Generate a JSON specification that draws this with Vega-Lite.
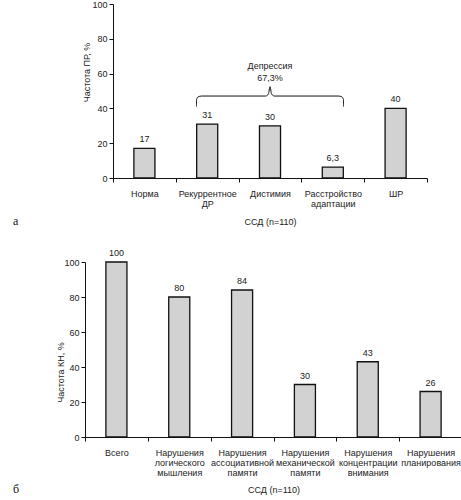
{
  "$schema": "https://vega.github.io/schema/vega-lite/v6.json",
  "padding": {"left": 13, "top": 0, "right": 0, "bottom": 0},
  "background": "white",
  "spacing": 22,
  "config": {
    "view": {"stroke": null},
    "font": "Liberation Sans",
    "axis": {
      "domainColor": "#111",
      "tickColor": "#111",
      "tickSize": 4,
      "domainWidth": 1,
      "tickWidth": 1,
      "labelFont": "Liberation Sans",
      "labelFontSize": 9,
      "labelColor": "#222",
      "labelOverlap": false,
      "titleFont": "Liberation Sans",
      "titleFontSize": 9,
      "titleFontWeight": "normal",
      "titleColor": "#222",
      "grid": false
    },
    "title": {"font": "Liberation Serif", "fontSize": 12, "fontWeight": "normal", "color": "#111"}
  },
  "datasets": {
    "top": [
      {"cat": "Норма", "value": 17, "lbl": "17"},
      {"cat": "Рекуррентное ДР", "value": 31, "lbl": "31"},
      {"cat": "Дистимия", "value": 30, "lbl": "30"},
      {"cat": "Расстройство адаптации", "value": 6.3, "lbl": "6,3"},
      {"cat": "ШР", "value": 40, "lbl": "40"}
    ],
    "brace": [
      {"i": 1, "x": 1.33, "y": 41},
      {"i": 2, "x": 1.33, "y": 45},
      {"i": 3, "x": 1.355, "y": 46.6},
      {"i": 4, "x": 1.41, "y": 47.1},
      {"i": 5, "x": 2.43, "y": 47.1},
      {"i": 6, "x": 2.475, "y": 48.3},
      {"i": 7, "x": 2.5, "y": 52.5},
      {"i": 8, "x": 2.525, "y": 48.3},
      {"i": 9, "x": 2.57, "y": 47.1},
      {"i": 10, "x": 3.59, "y": 47.1},
      {"i": 11, "x": 3.645, "y": 46.6},
      {"i": 12, "x": 3.67, "y": 45},
      {"i": 13, "x": 3.67, "y": 41}
    ],
    "braceText": [
      {"x": 2.5, "y": 64.4, "t": "Депрессия"},
      {"x": 2.5, "y": 57.5, "t": "67,3%"}
    ],
    "bottom": [
      {"cat": "Всего", "value": 100, "lbl": "100"},
      {"cat": "Нарушения логического мышления", "value": 80, "lbl": "80"},
      {"cat": "Нарушения ассоциативной памяти", "value": 84, "lbl": "84"},
      {"cat": "Нарушения механической памяти", "value": 30, "lbl": "30"},
      {"cat": "Нарушения концентрации внимания", "value": 43, "lbl": "43"},
      {"cat": "Нарушения планирования", "value": 26, "lbl": "26"}
    ]
  },
  "vconcat": [
    {
      "width": 342,
      "height": 174,
      "title": {"text": "а", "orient": "bottom", "anchor": "start", "frame": "group", "dx": -72, "dy": -10, "offset": 0},
      "resolve": {"scale": {"x": "independent"}},
      "layer": [
        {
          "data": {"name": "top"},
          "encoding": {
            "x": {"field": "cat", "type": "nominal", "sort": null,
              "scale": {"paddingInner": 0, "paddingOuter": 0, "range": [28, 342]},
              "axis": {"title": "ССД (n=110)", "labelAngle": 0, "tickBand": "extent", "labelExpr": "split(datum.label, ' ')", "labelLineHeight": 10, "labelPadding": 7, "titlePadding": 9}},
            "y": {"field": "value", "type": "quantitative",
              "scale": {"domain": [0, 100]},
              "axis": {"title": "Частота ПР, %", "values": [0, 20, 40, 60, 80, 100], "labelOverlap": false, "offset": -28, "labelPadding": 2, "titleY": 68, "titleX": -22}}
          },
          "layer": [
            {
              "mark": {"type": "bar", "width": {"band": 0.335}, "fill": "#d2d2d2", "stroke": "#111", "strokeWidth": 1.3}
            },
            {
              "mark": {"type": "text", "baseline": "bottom", "dy": -4, "fontSize": 9, "color": "#222"},
              "encoding": {"text": {"field": "lbl"}}
            }
          ]
        },
        {
          "encoding": {
            "x": {"field": "x", "type": "quantitative", "scale": {"domain": [0, 5], "range": [28, 342]}, "axis": null},
            "y": {"field": "y", "type": "quantitative", "axis": {"title": "Частота ПР, %", "values": [0, 20, 40, 60, 80, 100], "labelOverlap": false, "offset": -28, "labelPadding": 2, "titleY": 68, "titleX": -22}}
          },
          "layer": [
            {
              "data": {"name": "brace"},
              "mark": {"type": "line", "color": "#111", "strokeWidth": 1, "interpolate": "monotone"},
              "encoding": {"order": {"field": "i"}}
            },
            {
              "data": {"name": "braceText"},
              "mark": {"type": "text", "baseline": "middle", "fontSize": 9, "color": "#222"},
              "encoding": {"text": {"field": "t"}}
            }
          ]
        }
      ]
    },
    {
      "width": 377,
      "height": 175,
      "title": {"text": "б", "orient": "bottom", "anchor": "start", "frame": "group", "dx": -72, "dy": -11, "offset": 0},
      "data": {"name": "bottom"},
      "encoding": {
        "x": {"field": "cat", "type": "nominal", "sort": null,
          "scale": {"paddingInner": 0, "paddingOuter": 0},
          "axis": {"title": "ССД (n=110)", "labelAngle": 0, "tickBand": "extent", "labelExpr": "split(datum.label, ' ')", "labelLineHeight": 10.3, "labelPadding": 7, "titlePadding": 8}},
        "y": {"field": "value", "type": "quantitative",
          "scale": {"domain": [0, 100]},
          "axis": {"title": "Частота КН, %", "values": [0, 20, 40, 60, 80, 100], "labelOverlap": false, "labelPadding": 2, "titleY": 110, "titleX": -20}}
      },
      "layer": [
        {
          "mark": {"type": "bar", "width": {"band": 0.335}, "fill": "#d2d2d2", "stroke": "#111", "strokeWidth": 1.3}
        },
        {
          "mark": {"type": "text", "baseline": "bottom", "dy": -4, "fontSize": 9, "color": "#222"},
          "encoding": {"text": {"field": "lbl"}}
        }
      ]
    }
  ]
}
